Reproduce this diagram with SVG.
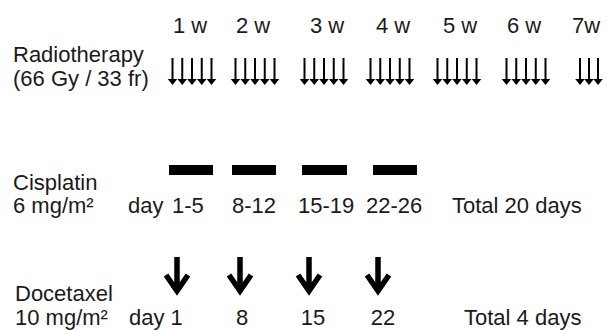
<svg xmlns="http://www.w3.org/2000/svg" xmlns:xlink="http://www.w3.org/1999/xlink" width="607" height="330" viewBox="0 0 607 330">
  <style>
    text { font-family: "Liberation Sans", Arial, sans-serif; font-size: 22px; fill: #1a1a1a; }
    .mid { text-anchor: middle; }
    .bar { fill: #000; }
    .dose { fill: none; stroke: #000; stroke-width: 5.5; stroke-linejoin: miter; stroke-linecap: butt; }
  </style>
  <defs>
    <!-- one daily radiotherapy fraction: thin shaft with a small head -->
    <g id="fx">
      <line x1="0" y1="58" x2="0" y2="80" stroke="#000" stroke-width="2"/>
      <polygon points="-4.8,79 4.8,79 0,85" fill="#000"/>
    </g>
    <!-- one week of five fractions -->
    <g id="week">
      <use xlink:href="#fx" x="4.5"/>
      <use xlink:href="#fx" x="14.25"/>
      <use xlink:href="#fx" x="24"/>
      <use xlink:href="#fx" x="33.75"/>
      <use xlink:href="#fx" x="43.5"/>
    </g>
    <!-- docetaxel infusion day -->
    <g id="dtx">
      <path class="dose" d="M0,257 V291 M-11,275 L0,291 L11,275"/>
    </g>
  </defs>

  <g id="weeks">
    <text class="mid" x="190" y="33">1 w</text>
    <text class="mid" x="253" y="33">2 w</text>
    <text class="mid" x="327" y="33">3 w</text>
    <text class="mid" x="393" y="33">4 w</text>
    <text class="mid" x="460" y="33">5 w</text>
    <text class="mid" x="524" y="33">6 w</text>
    <text class="mid" x="586" y="33">7w</text>
  </g>

  <g id="radiotherapy">
    <text x="13" y="62">Radiotherapy</text>
    <text x="13" y="86">(66 Gy / 33 fr)</text>
    <use xlink:href="#week" x="168"/>
    <use xlink:href="#week" x="231"/>
    <use xlink:href="#week" x="300"/>
    <use xlink:href="#week" x="366"/>
    <use xlink:href="#week" x="433"/>
    <use xlink:href="#week" x="502"/>
    <use xlink:href="#fx" x="580"/>
    <use xlink:href="#fx" x="589"/>
    <use xlink:href="#fx" x="598"/>
  </g>

  <g id="cisplatin">
    <text x="13" y="190">Cisplatin</text>
    <text x="13" y="213">6 mg/m²</text>
    <rect class="bar" x="169" y="165" width="44" height="10"/>
    <rect class="bar" x="232" y="165" width="44" height="10"/>
    <rect class="bar" x="302" y="165" width="45" height="10"/>
    <rect class="bar" x="373" y="165" width="44" height="10"/>
    <text x="128" y="213">day</text>
    <text x="172" y="213">1-5</text>
    <text x="232" y="213">8-12</text>
    <text x="298" y="213">15-19</text>
    <text x="366" y="213">22-26</text>
    <text x="452" y="213">Total 20 days</text>
  </g>

  <g id="docetaxel">
    <text x="15" y="301">Docetaxel</text>
    <text x="15" y="325">10 mg/m²</text>
    <use xlink:href="#dtx" x="177"/>
    <use xlink:href="#dtx" x="240"/>
    <use xlink:href="#dtx" x="309"/>
    <use xlink:href="#dtx" x="378"/>
    <text x="129" y="325">day 1</text>
    <text class="mid" x="242" y="325">8</text>
    <text class="mid" x="313" y="325">15</text>
    <text class="mid" x="383" y="325">22</text>
    <text x="464" y="325">Total 4 days</text>
  </g>
</svg>
